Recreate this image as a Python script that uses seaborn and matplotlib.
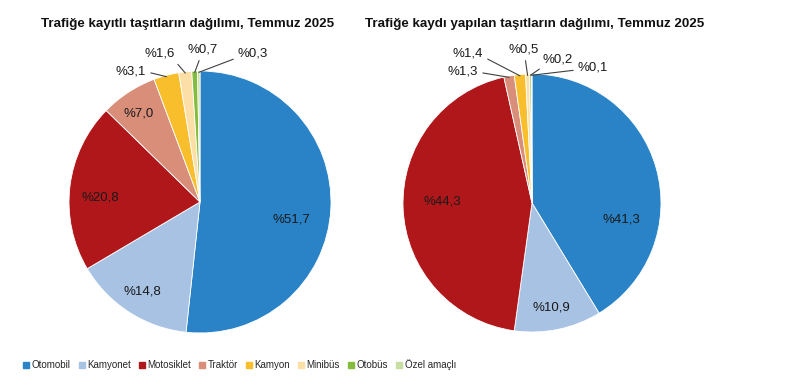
import matplotlib
matplotlib.use("Agg")
import matplotlib.pyplot as plt
import seaborn as sns
import numpy as np
from matplotlib.lines import Line2D

# Veri
categories = ["Otomobil", "Kamyonet", "Motosiklet", "Traktör", "Kamyon", "Minibüs", "Otobüs", "Özel amaçlı"]
kayitli = [51.7, 14.8, 20.8, 7.0, 3.1, 1.6, 0.7, 0.3]
kaydi_yapilan = [41.3, 10.9, 44.3, 1.3, 1.4, 0.5, 0.2, 0.1]
titles = ["Trafiğe kayıtlı taşıtların dağılımı, Temmuz 2025",
          "Trafiğe kaydı yapılan taşıtların dağılımı, Temmuz 2025"]

colors = ["#2A83C6", "#A7C2E3", "#B0171B", "#D98E79", "#F8BE2C", "#FCDFA6", "#84BC3E", "#C8DEA2"]

sns.set_theme(style="white")
plt.rcParams["font.family"] = ["Liberation Sans", "DejaVu Sans"]

W, H = 791, 383
fig = plt.figure(figsize=(W / 100, H / 100), dpi=100)
fig.patch.set_facecolor("white")

# pie centre / radius in pixels, label positions in pixels (top-left origin)
# leader: None = inside label, (angleA, armA) = elbow line, "s" = straight
pies = [
    dict(cx=200, cy=202, r=131, values=kayitli, title_x=188,
         labels=[(291, 220), (142, 292), (100, 197), (139, 113), (131, 71), (160, 54), (203, 50), (253, 54)],
         leader=[None, None, None, None, (0, 12), (0, 9), "s", (180, 6)]),
    dict(cx=532, cy=203, r=129, values=kaydi_yapilan, title_x=535,
         labels=[(621, 219), (551, 308), (442, 202), (463, 72), (468, 53), (524, 50), (558, 59), (593, 68)],
         leader=[None, None, None, (0, 14), (0, 8), "s", (180, 4), "s"]),
]


def fmt(v):
    return "%" + f"{v:.1f}".replace(".", ",")


for i, p in enumerate(pies):
    cx, cy, r = p["cx"], p["cy"], p["r"]
    ax = fig.add_axes([(cx - r) / W, (H - cy - r) / H, 2 * r / W, 2 * r / H])
    vals = np.array(p["values"])
    ax.pie(vals, colors=colors, startangle=90, counterclock=False, radius=1,
           wedgeprops=dict(edgecolor="white", linewidth=0.6))
    ax.set_xlim(-1, 1)
    ax.set_ylim(-1, 1)
    ax.set_aspect("equal")
    ax.axis("off")

    total = vals.sum()
    cum = np.cumsum(vals) - vals / 2
    for j, v in enumerate(vals):
        lx = (p["labels"][j][0] - cx) / r
        ly = (cy - p["labels"][j][1]) / r
        ld = p["leader"][j]
        if ld is None:
            ax.text(lx, ly, fmt(v), ha="center", va="center", fontsize=9.5, color="#1a1a1a")
            continue
        theta = np.deg2rad(90 - 360 * cum[j] / total)
        ex, ey = 0.99 * np.cos(theta), 0.99 * np.sin(theta)
        if ld == "s":
            cs = "arc3"
        else:
            cs = f"arc,angleA={ld[0]},armA={ld[1]},angleB=0,armB=0,rad=0"
        ax.annotate(fmt(v), xy=(ex, ey), xytext=(lx, ly), ha="center", va="center",
                    fontsize=9.5, color="#1a1a1a", annotation_clip=False,
                    arrowprops=dict(arrowstyle="-", color="#404040", lw=0.8,
                                    connectionstyle=cs, shrinkA=1, shrinkB=0))

    fig.text(p["title_x"] / W, 1 - 24 / H, titles[i], ha="center", va="center",
             fontsize=9.6, fontweight="bold", color="#111111")

handles = [Line2D([0], [0], marker="s", linestyle="none", markersize=4,
                  markerfacecolor=c, markeredgecolor=c) for c in colors]
fig.legend(handles, categories, loc="center", ncol=8, frameon=False,
           bbox_to_anchor=(240 / W, 1 - 365 / H),
           prop=dict(family=["Liberation Sans", "DejaVu Sans"], size=7),
           handlelength=0.5, handletextpad=0.3, columnspacing=0.9)

fig.savefig("out.png", dpi=100, facecolor="white")
